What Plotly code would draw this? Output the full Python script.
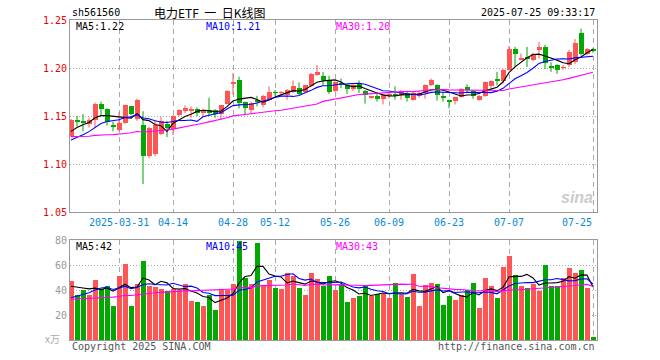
import numpy as np
import pandas as pd
import plotly.graph_objects as go

# ---------------- data ----------------
holidays = ["2025-04-04", "2025-05-01", "2025-05-02", "2025-05-05", "2025-06-02"]
all_days = pd.bdate_range("2025-03-19", "2025-07-25")
dates = [d.strftime("%Y-%m-%d") for d in all_days if d.strftime("%Y-%m-%d") not in holidays]

opens = [1.129, 1.145, 1.144, 1.142, 1.146, 1.163, 1.157, 1.140, 1.135, 1.143,
         1.160, 1.147, 1.141, 1.108, 1.110, 1.131, 1.142, 1.136, 1.151, 1.155,
         1.156, 1.157, 1.153, 1.156, 1.156, 1.152, 1.163, 1.184, 1.188, 1.165,
         1.156, 1.166, 1.161, 1.167, 1.175, 1.174, 1.172, 1.175, 1.179, 1.175,
         1.181, 1.193, 1.192, 1.187, 1.176, 1.184, 1.182, 1.178, 1.183, 1.176,
         1.169, 1.171, 1.168, 1.171, 1.172, 1.172, 1.174, 1.167, 1.171, 1.174,
         1.182, 1.182, 1.170, 1.166, 1.166, 1.170, 1.180, 1.176, 1.167, 1.171,
         1.181, 1.188, 1.186, 1.198, 1.220, 1.209, 1.211, 1.208, 1.219, 1.222,
         1.202, 1.203, 1.200, 1.203, 1.206, 1.236, 1.215, 1.219]
highs = [1.147, 1.150, 1.152, 1.148, 1.164, 1.165, 1.158, 1.144, 1.154, 1.162,
         1.160, 1.168, 1.155, 1.139, 1.146, 1.149, 1.145, 1.151, 1.157, 1.161,
         1.160, 1.159, 1.157, 1.169, 1.157, 1.161, 1.177, 1.195, 1.191, 1.165,
         1.165, 1.171, 1.172, 1.181, 1.177, 1.176, 1.178, 1.187, 1.185, 1.182,
         1.195, 1.203, 1.196, 1.192, 1.186, 1.189, 1.183, 1.183, 1.187, 1.177,
         1.171, 1.175, 1.173, 1.175, 1.181, 1.177, 1.175, 1.176, 1.176, 1.183,
         1.189, 1.183, 1.175, 1.167, 1.170, 1.179, 1.183, 1.177, 1.172, 1.186,
         1.187, 1.196, 1.199, 1.223, 1.222, 1.215, 1.222, 1.216, 1.227, 1.224,
         1.206, 1.204, 1.203, 1.219, 1.230, 1.241, 1.221, 1.221]
lows = [1.128, 1.139, 1.134, 1.138, 1.138, 1.151, 1.140, 1.134, 1.134, 1.142,
        1.151, 1.145, 1.079, 1.106, 1.108, 1.130, 1.128, 1.130, 1.150, 1.153,
        1.148, 1.150, 1.150, 1.150, 1.148, 1.146, 1.162, 1.172, 1.158, 1.151,
        1.152, 1.160, 1.159, 1.166, 1.171, 1.171, 1.167, 1.174, 1.172, 1.174,
        1.180, 1.192, 1.182, 1.173, 1.175, 1.179, 1.173, 1.176, 1.174, 1.163,
        1.168, 1.165, 1.162, 1.168, 1.167, 1.167, 1.165, 1.166, 1.169, 1.168,
        1.181, 1.166, 1.165, 1.158, 1.162, 1.169, 1.174, 1.168, 1.166, 1.170,
        1.178, 1.182, 1.184, 1.197, 1.201, 1.208, 1.201, 1.207, 1.210, 1.199,
        1.196, 1.194, 1.198, 1.201, 1.204, 1.213, 1.213, 1.216]
closes = [1.146, 1.144, 1.143, 1.146, 1.162, 1.157, 1.144, 1.139, 1.143, 1.161,
          1.152, 1.167, 1.108, 1.138, 1.141, 1.145, 1.138, 1.150, 1.156, 1.158,
          1.157, 1.153, 1.156, 1.154, 1.152, 1.161, 1.176, 1.185, 1.164, 1.158,
          1.164, 1.165, 1.171, 1.175, 1.174, 1.175, 1.177, 1.181, 1.173, 1.182,
          1.194, 1.196, 1.188, 1.175, 1.185, 1.183, 1.178, 1.182, 1.178, 1.172,
          1.170, 1.168, 1.172, 1.173, 1.171, 1.176, 1.169, 1.174, 1.174, 1.182,
          1.187, 1.172, 1.169, 1.165, 1.170, 1.178, 1.177, 1.171, 1.171, 1.185,
          1.186, 1.187, 1.198, 1.220, 1.215, 1.210, 1.210, 1.215, 1.222, 1.205,
          1.201, 1.198, 1.201, 1.217, 1.226, 1.215, 1.220, 1.218]
volumes = [47.0, 36.1, 40.2, 36.3, 47.8, 41.0, 42.9, 27.3, 51.1, 60.9,
           27.3, 45.1, 63.4, 42.9, 42.3, 41.0, 39.0, 41.0, 40.2, 44.5,
           31.4, 30.6, 27.3, 36.3, 24.0, 40.2, 40.2, 44.5, 79.2, 49.7,
           44.5, 77.3, 43.7, 48.4, 41.8, 41.0, 53.3, 51.1, 41.8, 36.3,
           53.3, 49.2, 42.9, 51.1, 40.2, 44.5, 30.8, 33.3, 35.5, 42.9,
           35.5, 36.9, 36.9, 33.3, 45.6, 36.3, 34.7, 52.7, 27.3, 43.7,
           45.6, 44.5, 28.1, 35.5, 32.2, 36.3, 40.2, 45.6, 25.9, 49.7,
           42.9, 33.3, 58.7, 67.5, 51.9, 42.9, 41.5, 44.5, 39.0, 60.1,
           42.9, 42.9, 49.7, 57.9, 53.8, 56.0, 42.0, 2.2]

# closes / volumes of the 29 sessions before the first shown day (only used for moving averages)
pre_closes = [1.140, 1.142, 1.139, 1.136, 1.138, 1.141, 1.137, 1.134, 1.133, 1.130,
              1.128, 1.126, 1.125, 1.127, 1.124, 1.122, 1.121, 1.123, 1.120, 1.120,
              1.118, 1.115, 1.113, 1.116, 1.118, 1.124, 1.129, 1.134, 1.137]
pre_volumes = [30, 35, 28, 33, 38, 30, 27, 34, 31, 36, 29, 33, 35, 30, 32, 28, 34, 36, 31, 30,
               22, 26, 24, 27, 24, 38, 45, 40, 45]

tick_dates = ["2025-03-31", "2025-04-14", "2025-04-28", "2025-05-12", "2025-05-26",
              "2025-06-09", "2025-06-23", "2025-07-07", "2025-07-25"]
tick_texts = ["2025-03-31", "04-14", "04-28", "05-12", "05-26", "06-09", "06-23", "07-07", "07-25"]
price_ticks = [1.05, 1.10, 1.15, 1.20, 1.25]
vol_ticks = [20, 40, 60, 80]

# ---------------- derived ----------------
N = len(dates)
xs = list(range(N))
RED = "#ff5555"
GREEN = "#00a800"
up = [c >= o for o, c in zip(opens, closes)]

all_c = pd.Series(pre_closes + closes)
all_v = pd.Series(pre_volumes + volumes)
P = len(pre_closes)
ma = {n: all_c.rolling(n).mean().iloc[P:].tolist() for n in (5, 10, 30)}
vma = {n: all_v.rolling(n).mean().iloc[P:].tolist() for n in (5, 10, 30)}

fig = go.Figure()

# wicks
for flag, col in ((True, RED), (False, GREEN)):
    wx, wy = [], []
    for i in xs:
        if up[i] == flag:
            wx += [i, i, None]
            wy += [lows[i], highs[i], None]
    fig.add_trace(go.Scatter(x=wx, y=wy, mode="lines", line=dict(color=col, width=1),
                             hoverinfo="skip", showlegend=False, xaxis="x", yaxis="y"))

# bodies
for flag, col in ((True, RED), (False, GREEN)):
    bx, bb, bh = [], [], []
    for i in xs:
        if up[i] == flag:
            lo = min(opens[i], closes[i])
            h = abs(closes[i] - opens[i])
            bx.append(i)
            bb.append(lo if h >= 0.0009 else (opens[i] + closes[i]) / 2 - 0.00045)
            bh.append(max(h, 0.0009))
    fig.add_trace(go.Bar(x=bx, y=bh, base=bb, width=5 / 6, marker=dict(color=col, line=dict(width=0)),
                         showlegend=False, xaxis="x", yaxis="y"))

ma_cols = {5: "#000000", 10: "#0000ff", 30: "#ff00ff"}
for n in (5, 10, 30):
    fig.add_trace(go.Scatter(x=xs, y=ma[n], mode="lines", line=dict(color=ma_cols[n], width=1.1),
                             showlegend=False, xaxis="x", yaxis="y"))

# volume
fig.add_trace(go.Bar(x=xs, y=volumes, width=5 / 6,
                     marker=dict(color=[RED if u else GREEN for u in up], line=dict(width=0)),
                     showlegend=False, xaxis="x2", yaxis="y2"))
for n in (5, 10, 30):
    fig.add_trace(go.Scatter(x=xs, y=vma[n], mode="lines", line=dict(color=ma_cols[n], width=1.1),
                             showlegend=False, xaxis="x2", yaxis="y2"))

tick_idx = [dates.index(d) for d in tick_dates]
MONO = "DejaVu Sans Mono"
xr = [-1 / 6, N - 1 + 4 / 6]
xcommon = dict(range=xr, tickvals=tick_idx, showticklabels=False, ticks="",
               showgrid=True, gridcolor="#aaaaaa", gridwidth=1, griddash="5px,4px",
               showline=True, mirror=True, linecolor="#999999", linewidth=1, zeroline=False,
               fixedrange=True)

fig.update_layout(
    width=660, height=360,
    margin=dict(l=70, r=63, t=20, b=20),
    paper_bgcolor="white", plot_bgcolor="white",
    barmode="overlay", bargap=0,
    showlegend=False,
    font=dict(family=MONO, size=10, color="#000"),
    xaxis=dict(domain=[0, 1], anchor="y", **xcommon),
    xaxis2=dict(domain=[0, 1], anchor="y2", matches="x", **xcommon),
    yaxis=dict(domain=[0.4, 1], range=[1.05, 1.25], tickvals=price_ticks,
               ticktext=[f"{v:.2f}" for v in price_ticks],
               tickfont=dict(family=MONO, size=10, color="#ee0000"),
               showgrid=True, gridcolor="#aaaaaa", griddash="1px,2px", gridwidth=1,
               showline=True, mirror=True, linecolor="#999999", linewidth=1,
               zeroline=False, ticks="", fixedrange=True),
    yaxis2=dict(domain=[0, 0.3125], range=[0, 80], tickvals=vol_ticks,
                ticktext=[str(v) for v in vol_ticks],
                tickfont=dict(family=MONO, size=10, color="#999999"),
                showgrid=True, gridcolor="#aaaaaa", griddash="1px,2px", gridwidth=1,
                showline=True, mirror=True, linecolor="#999999", linewidth=1,
                zeroline=False, ticks="", fixedrange=True),
)

ann = []
def txt(text, x, y, color="#000", size=10, xanchor="left", family=MONO, xref="paper", yref="paper", **kw):
    ann.append(dict(text=text, x=x, y=y, xref=xref, yref=yref, showarrow=False,
                    xanchor=xanchor, yanchor="middle",
                    font=dict(family=family, size=size, color=color), **kw))

def py(pix):  # page pixel row -> paper fraction
    return (340 - pix) / 320

def px(pix):
    return (pix - 70) / 527

txt("sh561560", 0, py(12))
txt("电力ETF&nbsp;&nbsp;一&nbsp;&nbsp;日K线图", px(209), py(12), size=12, xanchor="center",
    family="Noto Sans CJK SC")
txt("2025-07-25 09:33:17", 1, py(12), xanchor="right")
txt(f"MA5:{ma[5][-1]:.2f}", px(74), py(26), color="#000000")
txt(f"MA10:{ma[10][-1]:.2f}", px(204), py(26), color="#0000ff")
txt(f"MA30:{ma[30][-1]:.2f}", px(334), py(26), color="#ff00ff")
txt(f"MA5:{vma[5][-1]:.0f}", px(74), py(246), color="#000000")
txt(f"MA10:{vma[10][-1]:.0f}", px(204), py(246), color="#0000ff")
txt(f"MA30:{vma[30][-1]:.0f}", px(334), py(246), color="#ff00ff")
for k, (i, t) in enumerate(zip(tick_idx, tick_texts)):
    last = k == len(tick_idx) - 1
    txt(t, i + (0.1 if last else 0), py(222), color="#0a8ad6",
        xanchor="right" if last else "center", xref="x")
txt("x万", px(62), py(338), color="#aaaaaa", size=10, xanchor="right",
    family="Noto Sans CJK SC")
txt("Copyright 2025 SINA.COM", 0, py(346), color="#555555")
txt("http://finance.sina.com.cn", 1, py(346), color="#555555", xanchor="right")
txt("<b><i>sina</i></b>", px(595), py(197), color="#cccccc", size=16, xanchor="right",
    family="Liberation Sans")
fig.update_layout(annotations=ann)

fig.write_html("out.html")
